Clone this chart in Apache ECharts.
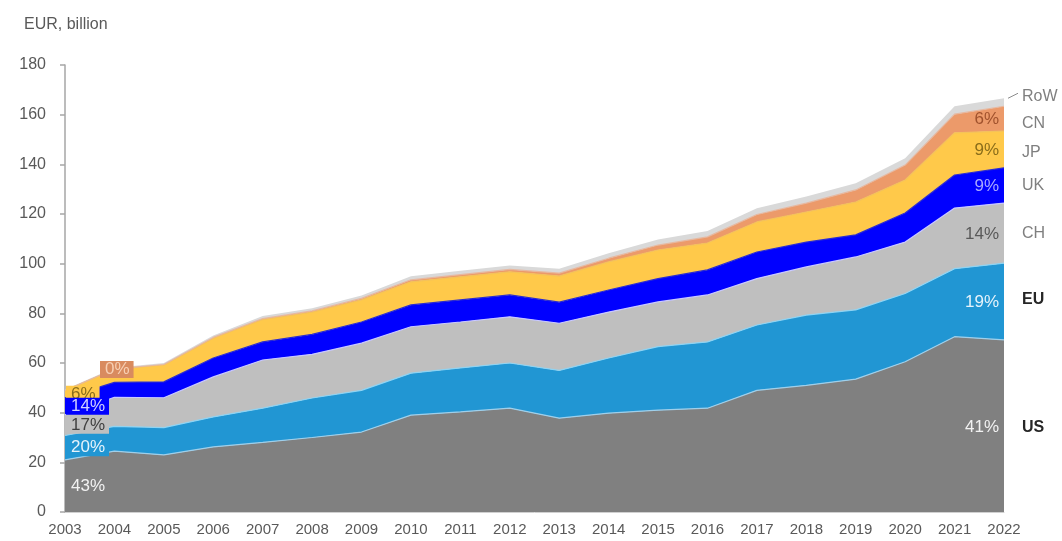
<!DOCTYPE html>
<html><head><meta charset="utf-8">
<script src="https://cdn.jsdelivr.net/npm/echarts@6/dist/echarts.min.js"></script>
<style>html,body{margin:0;padding:0;background:#fff}#c{width:1062px;height:541px}</style>
</head><body><div id="c"></div>
<script>
const years = ['2003','2004','2005','2006','2007','2008','2009','2010','2011','2012','2013','2014','2015','2016','2017','2018','2019','2020','2021','2022'];
const names = ['US','EU','CH','UK','JP','CN','RoW'];
const us  = [21, 24.5, 23, 26.2, 28, 30, 32.2, 39, 40.3, 41.8, 37.8, 39.8, 41, 41.8, 49, 51, 53.5, 60.5, 70.6, 69.3];
const eu  = [9.8, 10, 11, 12.1, 13.8, 15.9, 16.8, 16.9, 17.7, 18.2, 19.2, 22.2, 25.6, 26.7, 26.3, 28.3, 27.9, 27.5, 27.4, 30.9];
const ch  = [8.3, 11.7, 12, 16.1, 19.4, 17.6, 19, 18.7, 18.5, 18.6, 19, 18.5, 18, 18.9, 18.7, 19.4, 21.3, 20.7, 24.4, 24.2];
const uk  = [6.9, 6, 6.4, 7.6, 7.3, 8, 8.5, 8.8, 8.9, 8.8, 8.5, 8.9, 9.4, 10.1, 10.7, 10, 8.9, 11.7, 13.3, 14.2];
const jp  = [2.9, 5.3, 6.8, 8, 9, 9, 8.9, 9.3, 9.3, 9.3, 10.5, 11.3, 11.5, 10.8, 12.1, 12.1, 13.2, 13.3, 17, 14.8];
const cn  = [0, 0.1, 0.2, 0.3, 0.4, 0.5, 0.6, 0.8, 0.9, 1.0, 1.2, 1.5, 2, 2.5, 3, 3.6, 4.9, 6, 7.5, 10];
const row = [0.4, 0.5, 0.6, 0.8, 1, 1, 1.2, 1.4, 1.5, 1.6, 1.8, 2, 2.2, 2.4, 2.5, 2.6, 2.7, 2.8, 3.2, 3.2];
const startShare = ['43%','20%','17%','14%','6%','0%'];
const endShare   = ['41%','19%','14%','9%','9%','6%'];
const yMin = 0, yMax = 180, yStep = 20;
const unitLabel = 'EUR, billion';

const all = [us, eu, ch, uk, jp, cn, row];
const areaColors = ['#808080','#2196d3','#bfbfbf','#0000ff','#ffc94a','#ec9a6a','#d9d9d9'];
const lineColors = ['#9fcfea','#8fd3f2','#c9c9ff','#2a2ad0','#f4c25a','#e6b8a0','#d9d9d9'];
const FONT = 'Liberation Sans, Arial, sans-serif';

const labelItems = [];
const last = years.length - 1;
function mid(k, i) {
  let b = 0; for (let s = 0; s < k; s++) b += all[s][i];
  return b + all[k][i] / 2;
}
const startStyles = [
  {fill:'#f2f2f2'},
  {fill:'#e6f3fb', bg:'#2196d3'},
  {fill:'#404040', bg:'#bfbfbf'},
  {fill:'#d0d0ff', bg:'#0000ff'},
  {fill:'#8a6d1a', bg:'#ffc94a'},
  {fill:'#f7d0b4', bg:'#d98b5f', dx:34, dy:-21}
];
const endStyles = [
  {fill:'#f2f2f2'}, {fill:'#e6f3fb'}, {fill:'#595959'},
  {fill:'#a8a8ff'}, {fill:'#8a6d1a'}, {fill:'#a0522d'}
];
startShare.forEach((t, k) => labelItems.push({v:[0, mid(k, 0)], text:t, kind:'start', k:k, st:startStyles[k]}));
endShare.forEach((t, k) => labelItems.push({v:[last, mid(k, last)], text:t, kind:'end', k:k, st:endStyles[k]}));
const nameNudge = [2, -2, 0, 0, 3, 5, -6];
names.forEach((t, k) => labelItems.push({v:[last, mid(k, last)], text:t, kind:'name', k:k, st:{dy:nameNudge[k]}}));

const series = names.map((n, k) => ({
  name: n, type: 'line', stack: 'total', symbol: 'none', smooth: false,
  data: all[k],
  lineStyle: {color: lineColors[k], width: (k === 6 ? 0 : 1.2)},
  areaStyle: {color: areaColors[k], opacity: 1},
  itemStyle: {color: areaColors[k]},
  z: 2, silent: true
}));

series.push({
  type: 'custom', z: 10, clip: false, silent: true,
  data: labelItems.map(d => d.v),
  encode: {x: 0, y: 1},
  renderItem: function (params, api) {
    const d = labelItems[params.dataIndex];
    const p = api.coord([api.value(0), api.value(1)]);
    const st = d.st || {};
    if (d.kind === 'start') {
      return {type:'text', z2: 20 - d.k, x: p[0] + (st.bg ? 1 : 6) + (st.dx || 0), y: p[1] + (st.dy || 0),
        style: {text: d.text, fill: st.fill, font: '17px ' + FONT, align:'left', verticalAlign:'middle',
          backgroundColor: st.bg || 'transparent', padding: st.bg ? [0, 4, 0, 5] : 0}};
    }
    if (d.kind === 'end') {
      return {type:'text', x: p[0] - 5, y: p[1] + 1,
        style: {text: d.text, fill: st.fill, font: '17px ' + FONT, align:'right', verticalAlign:'middle'}};
    }
    const bold = d.k < 2;
    const children = [{type:'text', x: p[0] + 18, y: p[1] + (st.dy || 0),
      style: {text: d.text, fill: bold ? '#262626' : '#7f7f7f', font: (bold ? 'bold ' : '') + '16px ' + FONT,
        align:'left', verticalAlign:'middle'}}];
    if (d.text === 'RoW') {
      const top = api.coord([api.value(0), api.value(1) + 1.6]);
      children.push({type:'line', shape:{x1: top[0] + 4, y1: top[1], x2: top[0] + 14, y2: p[1] + st.dy - 3},
        style:{stroke:'#8c8c8c', lineWidth:1}});
    }
    return {type:'group', children};
  }
});

const chart = echarts.init(document.getElementById('c'), null, {renderer:'canvas'});
chart.setOption({
  animation: false,
  backgroundColor: '#ffffff',
  textStyle: {fontFamily: FONT},
  title: {text: unitLabel, left: 19, top: 12,
    textStyle: {fontSize: 16, fontWeight: 'normal', color: '#595959', fontFamily: FONT}},
  grid: {left: 65, right: 58, top: 65, bottom: 29, containLabel: false},
  xAxis: {
    type: 'category', data: years, boundaryGap: false,
    axisLine: {show: true, lineStyle: {color: '#d0d0d0', width: 1}},
    axisTick: {show: false},
    axisLabel: {interval: 0, color: '#595959', fontSize: 15, margin: 10, fontFamily: FONT}
  },
  yAxis: {
    type: 'value', min: yMin, max: yMax, interval: yStep,
    axisLine: {show: true, lineStyle: {color: '#a6a6a6', width: 1.5}},
    axisTick: {show: true, inside: false, length: 5, lineStyle: {color: '#a6a6a6', width: 1.5}},
    splitLine: {show: false},
    axisLabel: {color: '#595959', fontSize: 16, margin: 19, fontFamily: FONT}
  },
  series: series
});
</script></body></html>
